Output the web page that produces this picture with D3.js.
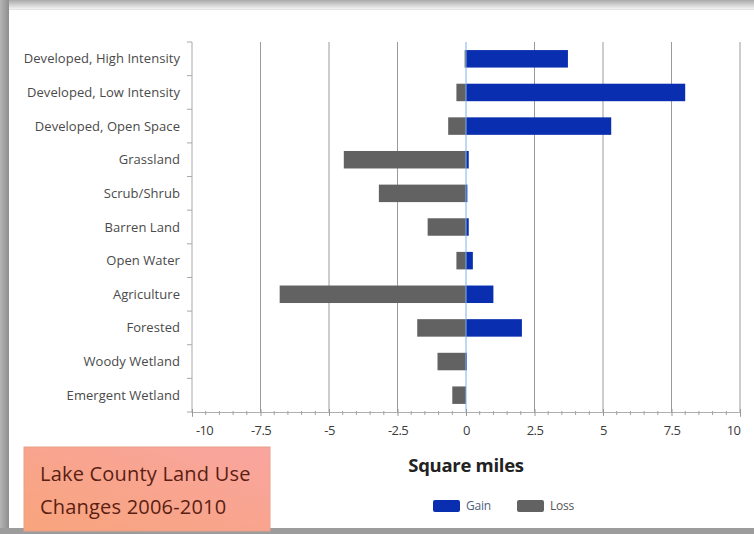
<!DOCTYPE html>
<html>
<head>
<meta charset="utf-8">
<script src="https://cdn.jsdelivr.net/npm/d3@7"></script>
<style>
  html, body { margin: 0; padding: 0; background: #fff; }
  svg { display: block; }
</style>
</head>
<body>
<svg id="chart" width="754" height="534"></svg>
<script>
// Land cover classes, top to bottom
const categories = [
  "Developed, High Intensity",
  "Developed, Low Intensity",
  "Developed, Open Space",
  "Grassland",
  "Scrub/Shrub",
  "Barren Land",
  "Open Water",
  "Agriculture",
  "Forested",
  "Woody Wetland",
  "Emergent Wetland"
];
// Change in square miles, 2006-2010
const gainValues = [3.72, 8.0, 5.3, 0.1, 0.05, 0.1, 0.25, 1.0, 2.04, 0.03, 0.0];
const lossValues = [-0.05, -0.35, -0.65, -4.46, -3.18, -1.4, -0.35, -6.8, -1.78, -1.04, -0.5];
const xTickValues = [-10, -7.5, -5, -2.5, 0, 2.5, 5, 7.5, 10];
const seriesNames = ["Gain", "Loss"];
const titleLines = ["Lake County Land Use", "Changes 2006-2010"];
const axisTitle = "Square miles";

const colors = { Gain: "#0a2eb0", Loss: "#626262" };

const svg = d3.select("#chart");
const W = 754, H = 534;
const plot = { left: 192, right: 740, top: 42, bottom: 412 };

// Frame shading around the figure
const defs = svg.append("defs");
const gTop = defs.append("linearGradient").attr("id", "fTop").attr("x1", 0).attr("y1", 0).attr("x2", 0).attr("y2", 1);
gTop.append("stop").attr("offset", 0).attr("stop-color", "#a9a9a9");
gTop.append("stop").attr("offset", 1).attr("stop-color", "#f2f2f2");
const gLeft = defs.append("linearGradient").attr("id", "fLeft").attr("x1", 0).attr("y1", 0).attr("x2", 1).attr("y2", 0);
gLeft.append("stop").attr("offset", 0).attr("stop-color", "#b5b5b5");
gLeft.append("stop").attr("offset", 1).attr("stop-color", "#8e8e8e");
const gBox = defs.append("linearGradient").attr("id", "boxFill").attr("x1", 0).attr("y1", 1).attr("x2", 1).attr("y2", 0);
gBox.append("stop").attr("offset", 0).attr("stop-color", "#f8a47c");
gBox.append("stop").attr("offset", 1).attr("stop-color", "#f9a5a0");

svg.append("rect").attr("x", 0).attr("y", 0).attr("width", W).attr("height", H).attr("fill", "#ffffff");
svg.append("rect").attr("x", 0).attr("y", 0).attr("width", W).attr("height", 9).attr("fill", "url(#fTop)");
svg.append("rect").attr("x", 0).attr("y", 0).attr("width", 9).attr("height", H).attr("fill", "url(#fLeft)");
svg.append("rect").attr("x", 9).attr("y", 9).attr("width", W - 9).attr("height", 1).attr("fill", "#e4e4e4");
svg.append("rect").attr("x", 0).attr("y", H - 6).attr("width", W).attr("height", 6).attr("fill", "#9c9c9c");

// Scales
const x = d3.scaleLinear().domain([-10, 10]).range([plot.left, plot.right]);
const y = d3.scaleBand().domain(categories).range([plot.top, plot.bottom]).paddingInner(0.48).paddingOuter(0.24);
const yBounds = d3.scaleBand().domain(categories).range([plot.top, plot.bottom]);

// Vertical gridlines
svg.append("g")
  .selectAll("line")
  .data(xTickValues.filter(v => v !== -10 && v !== 0))
  .join("line")
  .attr("x1", d => x(d)).attr("x2", d => x(d))
  .attr("y1", plot.top).attr("y2", plot.bottom)
  .attr("stroke", "#9a9a9a").attr("stroke-width", 1);

// Bars
const rows = categories.map((c, i) => ({ c, gain: gainValues[i], loss: lossValues[i] }));
const bars = svg.append("g");
bars.selectAll("rect.loss").data(rows).join("rect")
  .attr("class", "loss")
  .attr("x", d => x(d.loss))
  .attr("y", d => y(d.c))
  .attr("width", d => x(0) - x(d.loss))
  .attr("height", y.bandwidth())
  .attr("fill", colors.Loss);
bars.selectAll("rect.gain").data(rows).join("rect")
  .attr("class", "gain")
  .attr("x", x(0))
  .attr("y", d => y(d.c))
  .attr("width", d => x(d.gain) - x(0))
  .attr("height", y.bandwidth())
  .attr("fill", colors.Gain);

// Zero line
svg.append("line")
  .attr("x1", x(0)).attr("x2", x(0))
  .attr("y1", plot.top).attr("y2", plot.bottom)
  .attr("stroke", "#7fb0e6").attr("stroke-width", 1);

// Category axis with ticks between classes
const yAxisG = svg.append("g");
yAxisG.append("line")
  .attr("x1", plot.left).attr("x2", plot.left)
  .attr("y1", plot.top).attr("y2", plot.bottom)
  .attr("stroke", "#a8a8a8");
yAxisG.selectAll("line.tk")
  .data(d3.range(categories.length + 1))
  .join("line")
  .attr("class", "tk")
  .attr("x1", plot.left - 5).attr("x2", plot.left)
  .attr("y1", i => plot.top + i * yBounds.step())
  .attr("y2", i => plot.top + i * yBounds.step())
  .attr("stroke", "#a8a8a8");
yAxisG.selectAll("text")
  .data(categories)
  .join("text")
  .attr("x", plot.left - 12)
  .attr("y", d => yBounds(d) + yBounds.bandwidth() / 2)
  .attr("dy", "0.35em")
  .attr("text-anchor", "end")
  .attr("font-family", "Open Sans, sans-serif")
  .attr("font-size", 13)
  .attr("letter-spacing", 0.05)
  .attr("fill", "#4a4a4a")
  .text(d => d);

// Value axis with minor ticks every 0.5
const fmt = d => d3.format("~g")(d).replace("\u2212", "-");
const xAxis = d3.axisBottom(x).tickValues(xTickValues).tickSize(5).tickFormat(fmt);
const xAxisG = svg.append("g").attr("transform", `translate(0,${plot.bottom})`).call(xAxis);
xAxisG.select(".domain").attr("stroke", "#b0b0b0");
xAxisG.selectAll(".tick line").attr("stroke", "#999").attr("y1", -3).attr("y2", 4);
xAxisG.selectAll(".tick text")
  .attr("y", 14)
  .attr("dx", d => d === -10 ? 12 : d === 10 ? -7 : 0)
  .attr("font-family", "Open Sans, sans-serif")
  .attr("font-size", 13)
  .attr("letter-spacing", -0.6)
  .attr("fill", "#3c3c3c");
xAxisG.selectAll("line.minor")
  .data(d3.range(-10, 10.01, 0.5).filter(v => Math.abs(v / 2.5 - Math.round(v / 2.5)) > 1e-6))
  .join("line")
  .attr("class", "minor")
  .attr("x1", d => x(d)).attr("x2", d => x(d))
  .attr("y1", -1).attr("y2", 3)
  .attr("stroke", "#a0a0a0");

// Axis title
svg.append("text")
  .attr("x", x(0))
  .attr("y", 472)
  .attr("text-anchor", "middle")
  .attr("font-family", "Open Sans, sans-serif")
  .attr("font-weight", "bold")
  .attr("font-size", 18.5)
  .attr("letter-spacing", -0.3)
  .attr("fill", "#222")
  .text(axisTitle);

// Legend
const legend = svg.append("g").attr("transform", "translate(433,500)");
const legendX = { Gain: 0, Loss: 84 };
seriesNames.forEach(name => {
  const g = legend.append("g").attr("transform", `translate(${legendX[name]},0)`);
  g.append("rect").attr("x", 0).attr("y", 0).attr("width", 27).attr("height", 12).attr("rx", 2)
    .attr("fill", colors[name]);
  g.append("text").attr("x", 33).attr("y", 6).attr("dy", "0.35em")
    .attr("font-family", "Open Sans, sans-serif").attr("font-size", 12)
    .attr("letter-spacing", -0.2)
    .attr("fill", name === "Gain" ? "#4d5f80" : "#555")
    .text(name);
});

// Title box
const tb = svg.append("g").attr("transform", "translate(24,447)");
tb.append("rect").attr("x", 0).attr("y", 0).attr("width", 246).attr("height", 84)
  .attr("fill", "url(#boxFill)").attr("stroke", "#e8a08a").attr("stroke-width", 1);
tb.selectAll("text").data(titleLines).join("text")
  .attr("x", 16)
  .attr("y", (d, i) => 34 + i * 33)
  .attr("font-family", "Open Sans, sans-serif")
  .attr("font-size", 20)
  .attr("font-weight", 500)
  .attr("letter-spacing", 0.2)
  .attr("fill", "#5a1e12")
  .text(d => d);
</script>
</body>
</html>
